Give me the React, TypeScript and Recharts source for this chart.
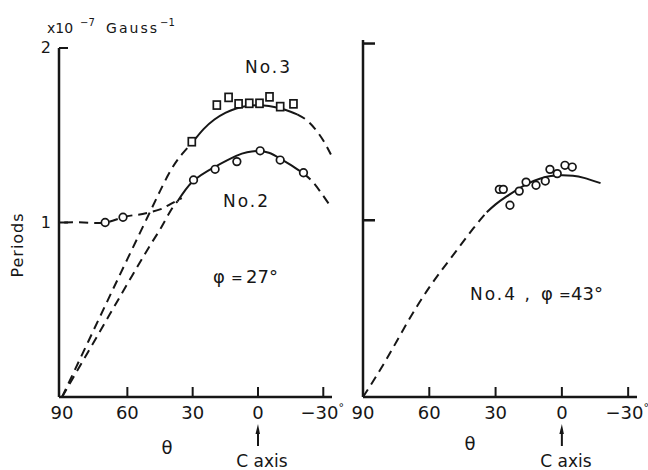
import React from 'react';
import { ComposedChart, Line, XAxis, YAxis } from 'recharts';

// ---------- tick values / labels ----------
const xTicks = [90, 60, 30, 0, -30];
const xTickLabels = ['90', '60', '30', '0', '\u221230'];
const leftYTicks = [1, 2];
const leftYTickLabels = ['1', '2'];
const rightYTicks = [1, 2];

// ---------- left panel: measured points ----------
const no2Theta = [70.2, 62, 29.6, 19.7, 9.7, -1, -10.2, -20.9];
const no2Period = [1.0, 1.03, 1.244, 1.305, 1.349, 1.411, 1.358, 1.285];

const no3Theta = [30.4, 18.9, 13.5, 8.9, 4.0, -0.7, -5.3, -10.2, -16.3];
const no3Period = [1.463, 1.673, 1.717, 1.68, 1.683, 1.683, 1.72, 1.664, 1.68];

// ---------- left panel: curves ----------
const no3DashAT = [90, 80, 70, 60, 50, 45, 40, 35, 30];
const no3DashAP = [0, 0.264, 0.528, 0.79, 1.05, 1.18, 1.3, 1.39, 1.46];
const no3SolidT = [30, 25, 20, 15, 10, 5, 0, -5, -10, -15, -18];
const no3SolidP = [1.46, 1.535, 1.59, 1.628, 1.653, 1.667, 1.672, 1.668, 1.655, 1.635, 1.62];
const no3DashBT = [-18, -22, -26, -30, -33.5];
const no3DashBP = [1.62, 1.59, 1.54, 1.47, 1.39];

const no2DashAT = [90, 80, 70, 60, 50, 45, 40, 37];
const no2DashAP = [0, 0.216, 0.432, 0.648, 0.86, 0.96, 1.07, 1.12];
const no2SolidT = [37, 30, 20, 10, 5, 0, -5, -10, -15, -21];
const no2SolidP = [1.12, 1.235, 1.318, 1.382, 1.403, 1.41, 1.4, 1.368, 1.33, 1.28];
const no2DashBT = [-21, -25, -29, -33.5];
const no2DashBP = [1.28, 1.235, 1.17, 1.09];

const no2LowT = [89, 80, 70.2, 62, 55, 51, 45, 41, 35];
const no2LowP = [1.0, 1.0, 1.0, 1.03, 1.045, 1.054, 1.075, 1.1, 1.14];

// ---------- right panel ----------
const no4Theta = [28.3, 26.5, 23.5, 19.3, 16.2, 11.7, 7.5, 5.4, 2.1, -1.4, -4.7];
const no4Period = [1.175, 1.175, 1.085, 1.165, 1.216, 1.198, 1.222, 1.288, 1.264, 1.311, 1.301];

const no4DashT = [90, 80, 70, 60, 50, 40, 34];
const no4DashP = [0, 0.2, 0.42, 0.62, 0.79, 0.955, 1.045];
const no4SolidT = [34, 30, 25, 20, 15, 10, 5, 0, -5, -10, -17.5];
const no4SolidP = [1.045, 1.09, 1.135, 1.175, 1.21, 1.235, 1.25, 1.255, 1.252, 1.24, 1.21];

const zip = (t: number[], p: number[]) => t.map((v, i) => ({ t: v, p: p[i] }));

const FONT = "'DejaVu Sans', sans-serif";
const INK = '#161616';

const XTick = (props: any) => {
  const { x, y, payload } = props;
  const v = payload.value;
  const label = xTickLabels[xTicks.indexOf(v)];
  const neg = v < 0;
  return (
    <g>
      {v !== 90 && <line x1={x} x2={x} y1={y} y2={y - 10} stroke={INK} strokeWidth={2} />}
      {neg ? (
        <text x={x - 1} y={y + 22} textAnchor="middle" fontSize={18} fontFamily={FONT} fill={INK}>
          {label}
          <tspan dy={-8} fontSize={11}>°</tspan>
        </text>
      ) : (
        <text x={x} y={y + 22} textAnchor="middle" fontSize={18} fontFamily={FONT} fill={INK}>
          {label}
        </text>
      )}
      {v === 0 && (
        <g>
          <line x1={x} x2={x} y1={y + 32} y2={y + 49} stroke={INK} strokeWidth={2} />
          <path d={`M${x},${y + 27} L${x - 2.5},${y + 37} L${x + 2},${y + 37} Z`} fill={INK} />
          <text x={x + 4} y={y + 70} textAnchor="middle" fontSize={17} fontFamily={FONT} fill={INK}>
            C axis
          </text>
        </g>
      )}
    </g>
  );
};

const LeftYTick = (props: any) => {
  const { x, y, payload } = props;
  const label = leftYTickLabels[leftYTicks.indexOf(payload.value)];
  return (
    <g>
      <line x1={x} x2={x + 9} y1={y} y2={y} stroke={INK} strokeWidth={2} />
      <text x={x - 8} y={y + 5} textAnchor="end" fontSize={16} fontFamily={FONT} fill={INK}>
        {label}
      </text>
    </g>
  );
};

const RightYTick = (props: any) => {
  const { x, y } = props;
  return <line x1={x} x2={x + 12} y1={y} y2={y} stroke={INK} strokeWidth={2.5} />;
};

const CircleDot = (props: any) => {
  const { cx, cy } = props;
  if (cx == null || cy == null) return null;
  return <circle cx={cx} cy={cy} r={3.8} fill="#fff" stroke={INK} strokeWidth={1.7} />;
};

const SquareDot = (props: any) => {
  const { cx, cy } = props;
  if (cx == null || cy == null) return null;
  return <rect x={cx - 3.5} y={cy - 4} width={7} height={8} fill="#fff" stroke={INK} strokeWidth={1.7} />;
};

const DASH = '9 6';
const axisLineStyle = { stroke: INK, strokeWidth: 2.5 };

const curve = (key: string, data: any[], dashed: boolean) => (
  <Line
    key={key}
    data={data}
    dataKey="p"
    type="natural"
    stroke={INK}
    strokeWidth={2}
    strokeDasharray={dashed ? DASH : undefined}
    dot={false}
    activeDot={false}
    isAnimationActive={false}
  />
);

const markers = (key: string, data: any[], shape: any) => (
  <Line
    key={key}
    data={data}
    dataKey="p"
    stroke="none"
    dot={shape}
    activeDot={false}
    isAnimationActive={false}
  />
);

export default function App() {
  return (
    <div style={{ position: 'absolute', left: 0, top: 0, width: 648, height: 470, background: '#fff' }}>
      <div style={{ position: 'absolute', left: 0, top: 0 }}>
        <ComposedChart width={346} height={470} margin={{ top: 48, right: 14, bottom: 43, left: 29 }}>
          <XAxis
            dataKey="t"
            type="number"
            domain={[-34, 91.4]}
            reversed
            ticks={xTicks}
            interval={0}
            tick={<XTick />}
            tickLine={false}
            tickSize={0}
            tickMargin={0}
            axisLine={axisLineStyle}
            height={30}
          />
          <YAxis
            type="number"
            domain={[0, 2]}
            ticks={leftYTicks}
            interval={0}
            tick={<LeftYTick />}
            tickLine={false}
            tickSize={0}
            tickMargin={0}
            axisLine={axisLineStyle}
            width={30}
          />
          {curve('n3a', zip(no3DashAT, no3DashAP), true)}
          {curve('n3s', zip(no3SolidT, no3SolidP), false)}
          {curve('n3b', zip(no3DashBT, no3DashBP), true)}
          {curve('n2a', zip(no2DashAT, no2DashAP), true)}
          {curve('n2s', zip(no2SolidT, no2SolidP), false)}
          {curve('n2b', zip(no2DashBT, no2DashBP), true)}
          {curve('n2l', zip(no2LowT, no2LowP), true)}
          {markers('m3', zip(no3Theta, no3Period), <SquareDot />)}
          {markers('m2', zip(no2Theta, no2Period), <CircleDot />)}
        </ComposedChart>
      </div>
      <div style={{ position: 'absolute', left: 350, top: 0 }}>
        <ComposedChart width={298} height={470} margin={{ top: 40, right: 11, bottom: 43, left: -17 }}>
          <XAxis
            dataKey="t"
            type="number"
            domain={[-34, 90]}
            reversed
            ticks={xTicks}
            interval={0}
            tick={<XTick />}
            tickLine={false}
            tickSize={0}
            tickMargin={0}
            axisLine={axisLineStyle}
            height={30}
          />
          <YAxis
            type="number"
            domain={[0, 2.02]}
            ticks={rightYTicks}
            interval={0}
            tick={<RightYTick />}
            tickLine={false}
            tickSize={0}
            tickMargin={0}
            axisLine={axisLineStyle}
            width={30}
          />
          {curve('n4a', zip(no4DashT, no4DashP), true)}
          {curve('n4s', zip(no4SolidT, no4SolidP), false)}
          {markers('m4', zip(no4Theta, no4Period), <CircleDot />)}
        </ComposedChart>
      </div>
      <svg
        width={648}
        height={470}
        style={{ position: 'absolute', left: 0, top: 0, pointerEvents: 'none' }}
        fontFamily={FONT}
        fill={INK}
      >
        <text y={33} fontSize={14}>
          <tspan x={47}>x10</tspan>
          <tspan x={80} dy={-7} fontSize={10}>{'\u22127'}</tspan>
          <tspan x={106} dy={7} textLength={51} lengthAdjust="spacing">Gauss</tspan>
          <tspan x={160} dy={-7} fontSize={10}>{'\u22121'}</tspan>
        </text>
        <text x={18} y={245} fontSize={16} letterSpacing={1} textAnchor="middle" transform="rotate(-90 18 245)" dominantBaseline="middle">
          Periods
        </text>
        <text x={245} y={73} fontSize={17} letterSpacing={2}>No.3</text>
        <text x={223} y={207} fontSize={17} letterSpacing={2}>No.2</text>
        <text x={213} y={283} fontSize={18}>{'\u03c6'}</text>
        <text x={231} y={283} fontSize={14}>=</text>
        <text x={246} y={283} fontSize={18}>27°</text>
        <text x={167} y={454} fontSize={18} textAnchor="middle">θ</text>
        <text x={470} y={300} fontSize={17} letterSpacing={2}>No.4 ,</text>
        <text x={541} y={300} fontSize={18}>{'\u03c6'}</text>
        <text x={559} y={300} fontSize={14}>=</text>
        <text x={571} y={300} fontSize={18}>43°</text>
        <text x={470} y={450} fontSize={18} textAnchor="middle">θ</text>
      </svg>
    </div>
  );
}
